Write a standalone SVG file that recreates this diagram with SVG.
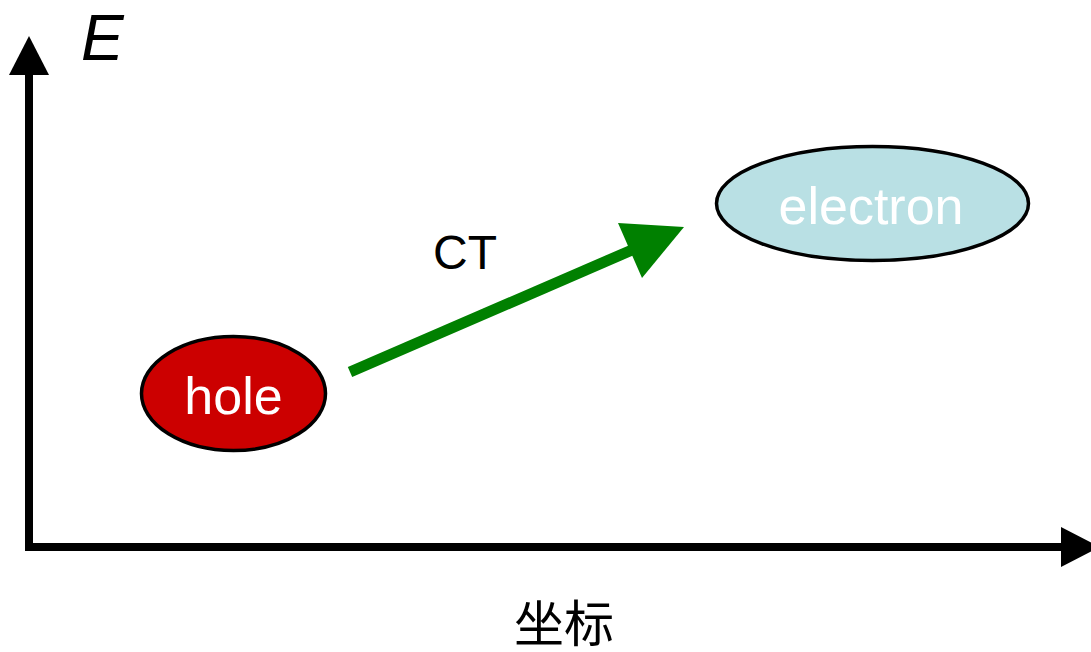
<svg xmlns="http://www.w3.org/2000/svg" width="1091" height="652" viewBox="0 0 1091 652">
  <style>
    .axis { stroke: #000; stroke-width: 8; fill: none; }
    .head { fill: #000; }
    .node { stroke: #000; stroke-width: 3.5; }
    .label { font-family: "Liberation Sans", Arial, sans-serif; font-size: 52px; fill: #fff; text-anchor: middle; }
    .ct { font-family: "Liberation Sans", Arial, sans-serif; font-size: 48px; fill: #000; }
  </style>
  <rect width="1091" height="652" fill="#fff"/>

  <!-- axes -->
  <g id="axes">
    <path class="axis" d="M29 74 V547 H1062"/>
    <polygon class="head" points="29,36 49,75 9,75"/>
    <polygon class="head" points="1100,547 1061,527 1061,567"/>
    <text x="81" y="60" font-family="Liberation Sans, Arial, sans-serif" font-style="italic" font-size="64" fill="#000">E</text>
    <text x="564" y="642" font-family="'Liberation Serif', 'Noto Sans CJK SC', serif" font-size="50" fill="#000" text-anchor="middle">坐标</text>
  </g>

  <!-- connectors -->
  <g id="connectors">
    <line x1="350" y1="372" x2="632" y2="250" stroke="#008000" stroke-width="11"/>
    <polygon points="684,227 618,223 642,278" fill="#008000"/>
    <text class="ct" x="433" y="269">CT</text>
  </g>

  <g id="hole">
    <ellipse class="node" cx="233.5" cy="393.5" rx="92" ry="57" fill="#CC0000"/>
    <text class="label" x="233.5" y="414">hole</text>
  </g>

  <g id="electron">
    <ellipse class="node" cx="872.5" cy="203.5" rx="156" ry="57" fill="#B9E0E4"/>
    <text class="label" x="871" y="224">electron</text>
  </g>
</svg>
